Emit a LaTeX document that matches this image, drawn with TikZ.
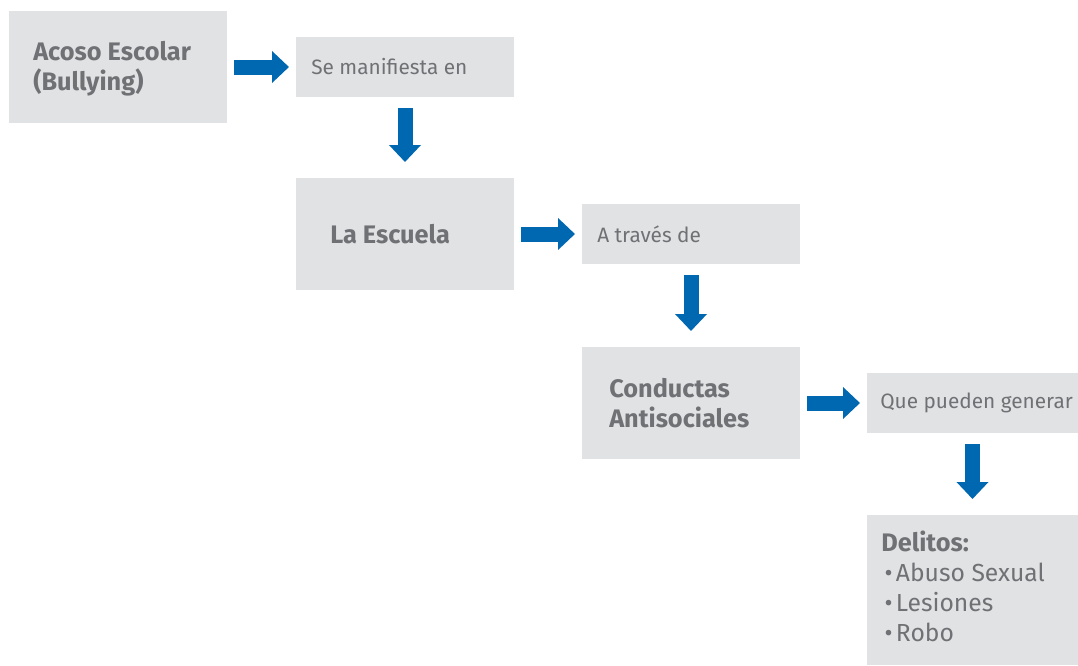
\documentclass[tikz,border=0pt]{standalone}
\usepackage{fontspec}
\setmainfont{Fira Sans}
\usetikzlibrary{positioning,arrows.meta}
\definecolor{boxgray}{HTML}{E1E2E4}
\definecolor{textgray}{HTML}{707174}
\definecolor{arrowblue}{HTML}{0067B1}

\begin{document}
\begin{tikzpicture}[
x=0.75pt, y=-0.75pt,
box/.style={fill=boxgray, inner sep=0pt, outer sep=0pt, minimum width=163.5pt},
bigbox/.style={box, minimum height=84pt},
smallbox/.style={box, minimum height=45pt},
heading/.style={text=textgray, inner sep=0pt, align=left, font=\bfseries\fontsize{19}{22.5}\selectfont},
phrase/.style={text=textgray, inner sep=0pt, align=left, font=\fontsize{15.6}{18}\selectfont},
link/.style={draw=arrowblue, line width=11.25pt, -{Triangle[length=12.75pt, width=23.25pt]}, shorten <=5.25pt, shorten >=5.25pt},
drop/.style={link, shorten <=8.25pt, shorten >=12pt}
]
\useasboundingbox (0,0) rectangle (1078,665);
%Boxes
\node[bigbox]                                        (acoso)     at (118,67) {};
\node[smallbox]    [right=51.75pt of acoso]          (manifiesta) {};
\node[bigbox]      [below=60.75pt of manifiesta]     (escuela)   {};
\node[smallbox]    [right=51pt of escuela]           (traves)    {};
\node[bigbox]      [below=62.25pt of traves]         (conductas) {};
\node[smallbox, minimum width=158.25pt] [right=50.25pt of conductas] (pueden) {};
\node[box, minimum width=158.25pt, minimum height=112.5pt] [below=61.5pt of pueden] (delitos) {};
%Texts
\node[heading] [right=18pt of acoso.west, yshift=-1.5pt] (acosotext) {Acoso Escolar\\(Bullying)};
\node[phrase]  [right=11.25pt of manifiesta.west] (manifiestatext) {Se manifiesta en};
\node[heading] [right=25.5pt of escuela.west]   (escuelatext)   {La Escuela};
\node[phrase]  [right=11.25pt of traves.west]   (travestext)    {A través de};
\node[heading] [right=20.25pt of conductas.west] (conductastext) {Conductas\\Antisociales};
\node[phrase]  [right=9.75pt of pueden.west]    (puedentext)    {Que pueden generar};
\node[heading] [right=10.5pt of delitos.west, yshift=2.5pt] (delitostext)
  {Delitos:\\
   \mdseries\fontsize{18.5}{22.5}\selectfont\hspace*{2.5pt}\textbullet\hspace{2.5pt}Abuso Sexual\\
   \mdseries\fontsize{18.5}{22.5}\selectfont\hspace*{2.5pt}\textbullet\hspace{2.5pt}Lesiones\\
   \mdseries\fontsize{18.5}{22.5}\selectfont\hspace*{2.5pt}\textbullet\hspace{2.5pt}Robo};
%Arrows
\draw[link] (acoso) -- (manifiesta);
\draw[drop] (manifiesta) -- (escuela);
\draw[link] (escuela) -- (traves);
\draw[drop] (traves) -- (conductas);
\draw[link] (conductas) -- (pueden);
\draw[drop] (pueden) -- (delitos);
\end{tikzpicture}
\end{document}
